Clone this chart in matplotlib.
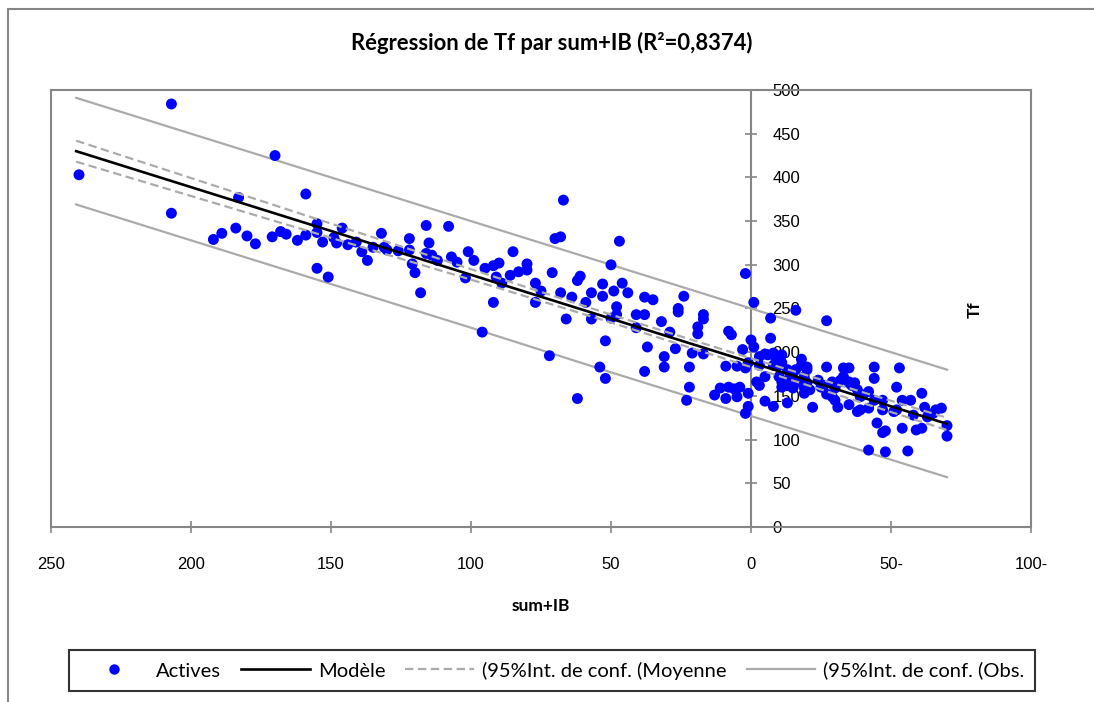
import matplotlib
matplotlib.use("Agg")
import matplotlib.pyplot as plt
from matplotlib.lines import Line2D
from matplotlib.patches import Rectangle

sum_ib = [240, 207, 207, 170, 183, 192, 189, 184, 180, 177, 171,
          168, 166, 162, 159, 159, 155, 155, 155, 153, 151, 149, 148, 146, 144, 141,
          139, 137, 135, 132, 131, 130, 126, 122, 122, 121, 120, 118, 116, 116, 115,
          114, 112, 108, 107, 105, 102, 101,
          99, 96, 95, 92, 92, 91, 90, 89, 86, 85, 83, 80, 80, 77, 77, 75, 72, 71, 70,
          68, 68, 67, 66, 64, 62, 61, 59, 57, 57, 54, 53, 53, 52, 50, 50, 49, 48, 48,
          47, 46, 44, 41, 41, 38, 38, 37, 38, 35, 32, 31, 31, 29, 27, 26, 26, 24, 22,
          19, 19, 21, 17, 17, 17, 8, 7, 9, 5, 3, 2, -1, 0, -1, -7, -7, -5, -8, -27,
          -27, -18,
          52, 62, 22, 23, 13, 11, 9, 8, 6, 5, 4, 1, 2, 1, 1, -2, -3, -3, -5, -5, -8,
          -8, 2,
          -6, -9, -10, -11, -11, -11, -13, -13, -15, -15, -16, -16, -17, -18, -19,
          -20, -19, -21, -22, -24, -25, -27, -29, -30, -30, -31, -32, -33, -35, -35,
          -35, -36, -38, -38, -40, -42, -42, -44, -44, -44, -45, -47, -47, -48, -48,
          -47, -51, -52, -53, -54, -54, -56, -57, -58, -59, -61, -61, -62, -63, -65,
          -66, -68, -70, -70,
          -39, -42, -52, -19, -26, -29, -31, -33, -35, -37, -39, -13, -14, -10, -20,
          -3, -11, -13, -15, -20]
tf = [403, 484, 359, 425, 377, 329, 336, 342, 333, 324, 332,
      338, 335, 328, 334, 381, 347, 337, 296, 326, 286, 331, 325, 342, 323, 326,
      315, 305, 320, 336, 320, 317, 316, 317, 330, 301, 291, 268, 313, 345, 325,
      311, 305, 344, 309, 303, 285, 315,
      305, 223, 296, 299, 257, 286, 302, 279, 288, 315, 292, 301, 294, 279, 257,
      270, 196, 291, 330, 332, 268, 374, 238, 263, 282, 287, 257, 268, 238, 183,
      278, 264, 213, 300, 239, 270, 252, 243, 327, 279, 268, 243, 228, 263, 243,
      206, 178, 260, 235, 195, 183, 223, 204, 250, 246, 264, 183, 229, 221, 199,
      243, 238, 198, 224, 220, 184, 184, 203, 290, 257, 214, 206, 239, 216, 198,
      199, 236, 183, 192,
      170, 147, 160, 145, 151, 159, 147, 160, 158, 149, 160, 138, 130, 153, 188,
      166, 162, 185, 144, 172, 138, 185, 182,
      197, 191, 185, 197, 166, 160, 162, 142, 168, 159, 248, 180, 166, 185, 172,
      165, 153, 157, 137, 168, 160, 152, 166, 159, 145, 137, 168, 182, 165, 182,
      140, 162, 157, 132, 151, 155, 88, 183, 170, 145, 119, 134, 108, 110, 86,
      145, 132, 160, 182, 113, 145, 87, 145, 128, 111, 113, 153, 137, 126, 130,
      134, 136, 116, 104,
      134, 136, 134, 160, 162, 149, 165, 172, 166, 165, 149, 168, 176, 172, 180,
      195, 188, 180, 176, 183]

# fitted model and 95% bands
model_x = [241, -70]
model_y = [430, 118]
band_x = [241, 170, 100, 50, 0, -70]
mean_up = [442, 368, 295, 243, 193, 125]
mean_lo = [418, 350, 283, 234, 183, 111]
obs_up = [491, 420, 350, 300, 250, 180]
obs_lo = [369, 298, 228, 177, 127, 57]

xticks = [250, 200, 150, 100, 50, 0, -50, -100]
xtick_labels = ['250', '200', '150', '100', '50', '0', '50-', '100-']
yticks = [0, 50, 100, 150, 200, 250, 300, 350, 400, 450, 500]

W, H = 1094, 702
fig = plt.figure(figsize=(W / 100, H / 100), dpi=100)
grey_axis = '#868686'
grey_band = '#ABABAB'
txt_font = 'Lato'
num_font = 'Liberation Sans'

# outer chart frame
fig.patches.append(Rectangle((8 / W, -0.05), 1.2, 1 - 9 / H + 0.05, transform=fig.transFigure,
                             fill=False, edgecolor=grey_axis, lw=1.5))

ax = fig.add_axes([51 / W, 1 - 527 / H, 980 / W, 437 / H])
ax.set_xlim(250, -100)
ax.set_ylim(0, 500)

ax.plot(band_x, obs_up, color=grey_band, lw=1.6, zorder=2)
ax.plot(band_x, obs_lo, color=grey_band, lw=1.6, zorder=2)
ax.scatter(sum_ib, tf, s=62, color='#0000FF', edgecolors='none', zorder=3)
ax.plot(band_x, mean_up, color=grey_band, lw=1.6, dashes=(3.8, 2), zorder=4)
ax.plot(band_x, mean_lo, color=grey_band, lw=1.6, dashes=(3.8, 2), zorder=4)
ax.plot(model_x, model_y, color='black', lw=1.9, zorder=5)

for sp in ax.spines.values():
    sp.set_color(grey_axis)
    sp.set_linewidth(1.5)
ax.tick_params(axis='y', left=False, labelleft=False)
ax.set_xticks(xticks)
ax.set_xticklabels(xtick_labels, fontsize=12, family=num_font)
ax.tick_params(axis='x', direction='inout', length=8.6, width=1.2, color=grey_axis, pad=17)

# vertical axis drawn at sum+IB = 0, labels on its right side
sec = ax.secondary_yaxis(0, transform=ax.transData)
sec.set_alignment('right')
sec.set_yticks(yticks)
sec.set_yticklabels([str(v) for v in yticks], fontsize=12, family=num_font)
sec.tick_params(direction='inout', length=8.6, width=1.2, color=grey_axis, pad=11)
for sp in sec.spines.values():
    sp.set_color(grey_axis)
    sp.set_linewidth(1.5)

fig.text(552 / W, 1 - 43 / H, 'Régression de Tf par sum+IB (R²=0,8374)', ha='center', va='center',
         fontsize=15.8, fontweight='bold', family=txt_font)
fig.text(541 / W, 1 - 606 / H, 'sum+IB', ha='center', va='center',
         fontsize=12.5, fontweight='bold', family=txt_font)
fig.text(975 / W, 1 - 310 / H, 'Tf', ha='center', va='center', rotation=90,
         fontsize=12.5, fontweight='bold', family=txt_font)

handles = [
    Line2D([], [], ls='none', marker='o', ms=7.5, color='#0000FF', mec='none'),
    Line2D([], [], color='black', lw=1.9),
    Line2D([], [], color=grey_band, lw=1.6, dashes=(3.8, 2)),
    Line2D([], [], color=grey_band, lw=1.6),
]
labels = ['Actives', 'Modèle', '(95%Int. de conf. (Moyenne', '(95%Int. de conf. (Obs.']
leg = fig.legend(handles, labels, loc='center', bbox_to_anchor=(552 / W, 1 - 670.5 / H),
                 ncol=4, prop={'family': txt_font, 'size': 14.5},
                 handlelength=3.4, handletextpad=0.4, columnspacing=1.0,
                 frameon=True, fancybox=False, borderpad=0.55, borderaxespad=0)
leg.get_frame().set_edgecolor('black')
leg.get_frame().set_linewidth(1.5)

fig.savefig('out.png', dpi=100)
